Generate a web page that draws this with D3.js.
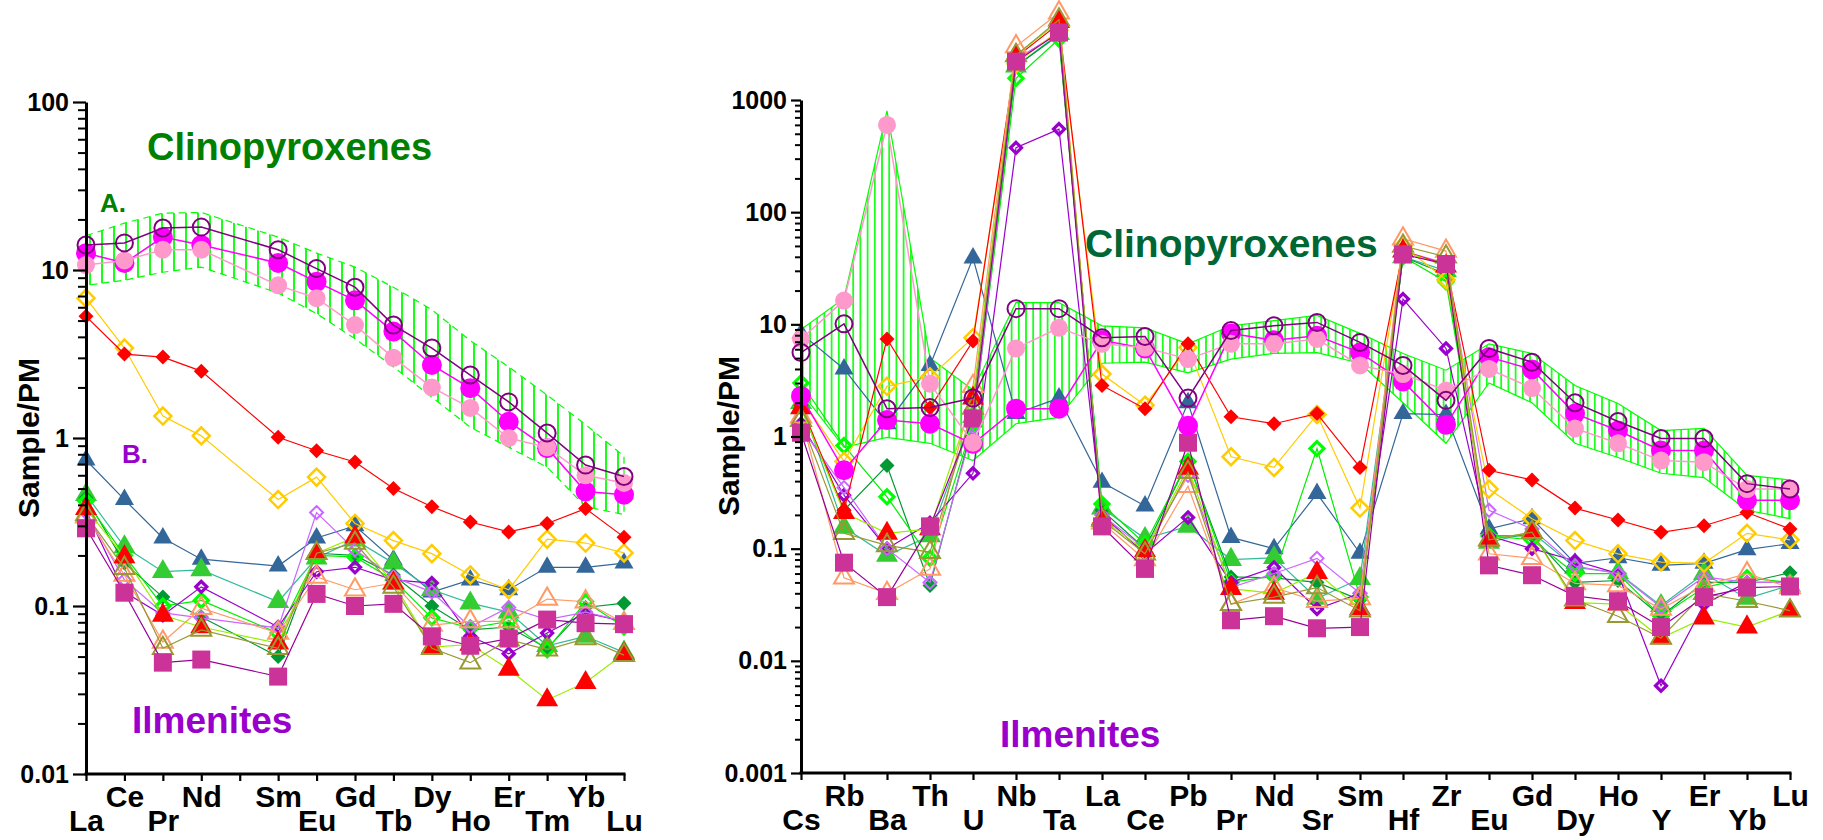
<!DOCTYPE html>
<html>
<head>
<meta charset="utf-8">
<script src="https://cdn.jsdelivr.net/npm/d3@7/dist/d3.min.js"></script>
<style>
  html, body { margin: 0; padding: 0; background: #fff; }
  svg { display: block; font-family: "Liberation Sans", Arial, Helvetica, sans-serif; font-weight: bold; }
</style>
</head>
<body>
<script>
// ---------------- Panel A: REE patterns (primitive-mantle normalised) ----------------
const reeTicks = ["La","Ce","Pr","Nd","Pm","Sm","Eu","Gd","Tb","Dy","Ho","Er","Tm","Yb","Lu"];
const reeElements = ["La","Ce","Pr","Nd","Sm","Eu","Gd","Tb","Dy","Ho","Er","Tm","Yb","Lu"];
const reeYTicks = [100, 10, 1, 0.1, 0.01];

// clinopyroxene range (hatched field)
const reeCpxUpper = [16, 19, 21.8, 22, 15.7, 12.6, 10.4, 7.9, 5.8, 3.8, 2.65, 1.8, 1.2, 0.78];
const reeCpxLower = [8.1, 8.7, 9.7, 10.4, 7.3, 5.5, 3.9, 2.65, 1.75, 1.16, 0.88, 0.67, 0.39, 0.35];

// clinopyroxenes
const reeCpxOpen    = [14.1, 14.5, 17.8, 18.0, 13.2, 10.2, 7.9, 4.7, 3.43, 2.37, 1.64, 1.07, 0.69, 0.59];
const reeCpxMagenta = [12.6, 11.0, 15.7, 14.1, 11.0, 8.5, 6.6, 4.3, 2.72, 1.98, 1.25, 0.87, 0.48, 0.46];
const reeCpxPink    = [10.7, 11.4, 13.2, 13.2, 8.1, 6.8, 4.7, 3.0, 2.0, 1.51, 1.0, 0.88, 0.60, 0.54];

// ilmenites
const reeIlmBlue        = [0.74, 0.43, 0.254, 0.19, 0.173, 0.254, 0.30, 0.188, 0.121, 0.143, 0.125, 0.17, 0.17, 0.18];
const reeIlmGreenTri    = [0.46, 0.225, 0.16, 0.164, 0.106, 0.193, 0.247, 0.18, 0.125, 0.104, 0.092, 0.058, 0.066, 0.053];
const reeIlmDarkGreen   = [0.44, 0.18, 0.113, 0.086, 0.05, 0.206, 0.2, 0.153, 0.10, 0.072, 0.075, 0.056, 0.098, 0.104];
const reeIlmBrightGreen = [0.42, 0.2, 0.10, 0.108, 0.069, 0.2, 0.196, 0.143, 0.085, 0.074, 0.081, 0.055, 0.106, 0.075];
const reeIlmPurple      = [0.37, 0.121, 0.088, 0.13, 0.075, 0.16, 0.17, 0.143, 0.137, 0.066, 0.052, 0.069, 0.091, 0.081];
const reeIlmLilac       = [0.36, 0.143, 0.091, 0.085, 0.074, 0.36, 0.216, 0.149, 0.121, 0.075, 0.098, 0.083, 0.092, 0.081];
const reeIlmGold        = [6.8, 3.43, 1.35, 1.03, 0.43, 0.585, 0.31, 0.245, 0.205, 0.153, 0.125, 0.25, 0.237, 0.207];
const reeIlmRedDiamond  = [5.3, 3.16, 3.03, 2.5, 1.01, 0.84, 0.72, 0.50, 0.39, 0.316, 0.276, 0.31, 0.38, 0.257];
const reeIlmSalmon      = [0.34, 0.153, 0.061, 0.097, 0.069, 0.149, 0.125, 0.137, 0.077, 0.081, 0.081, 0.11, 0.106, 0.079];
const reeIlmOlive       = [0.35, 0.168, 0.056, 0.072, 0.056, 0.206, 0.237, 0.13, 0.056, 0.046, 0.063, 0.055, 0.064, 0.051];
const reeIlmRedTri      = [0.38, 0.196, 0.088, 0.075, 0.06, 0.206, 0.257, 0.137, 0.057, 0.059, 0.042, 0.0276, 0.035, 0.052];
const reeIlmSquare      = [0.29, 0.12, 0.046, 0.048, 0.038, 0.118, 0.1, 0.103, 0.066, 0.058, 0.064, 0.083, 0.079, 0.078];

// ---------------- Panel B: multi-element patterns ----------------
const spiderElements = ["Cs","Rb","Ba","Th","U","Nb","Ta","La","Ce","Pb","Pr","Nd","Sr","Sm","Hf","Zr","Eu","Gd","Dy","Ho","Y","Er","Yb","Lu"];
const spiderYTicks = [1000, 100, 10, 1, 0.1, 0.01, 0.001];

const spCpxUpper = [9.0, 17, 800, 5.0, 2.6, 15.6, 15.6, 9.7, 9.3, 6.7, 9.7, 10.8, 12, 8.3, 5.5, 3.9, 6.7, 5.5, 2.85, 1.97, 1.13, 1.18, 0.45, 0.41];
const spCpxLower = [2.5, 0.8, 0.98, 0.87, 0.61, 1.3, 1.48, 4.5, 4.6, 3.7, 4.9, 5.5, 5.6, 4.5, 2.0, 0.87, 3.0, 2.0, 0.87, 0.65, 0.47, 0.43, 0.22, 0.185];

const spCpxOpen    = [5.6, 10.1, 1.77, 1.81, 2.2, 13.8, 13.8, 7.6, 7.8, 2.2, 8.8, 9.7, 10.4, 6.9, 4.3, 2.1, 6.1, 4.6, 2.0, 1.36, 0.96, 0.96, 0.38, 0.34];
const spCpxMagenta = [2.3, 0.5, 1.4, 1.3, 0.86, 1.77, 1.77, 7.2, 6.1, 1.25, 8.3, 7.2, 7.9, 5.6, 3.1, 1.27, 5.1, 3.96, 1.6, 1.13, 0.75, 0.75, 0.27, 0.27];
const spCpxPink    = [7.4, 16.3, 600, 2.96, 0.88, 6.1, 9.3, 6.7, 6.2, 4.9, 6.7, 6.7, 7.4, 4.3, 3.6, 2.57, 4.0, 2.7, 1.18, 0.87, 0.61, 0.59, 0.34, 0.34];

const spIlmBlue        = [8.3, 4.0, 1.3, 4.3, 39, 1.6, 2.2, 0.39, 0.24, 2.0, 0.126, 0.1, 0.31, 0.091, 1.6, 1.57, 0.15, 0.185, 0.074, 0.083, 0.071, 0.074, 0.098, 0.111];
const spIlmGreenTri    = [2.0, 0.155, 0.087, 0.13, 1.5, 2000, 3900, 0.23, 0.123, 0.158, 0.08, 0.083, 0.036, 0.054, 40, 30, 0.114, 0.14, 0.068, 0.061, 0.031, 0.06, 0.036, 0.047];
const spIlmDarkGreen   = [1.8, 0.22, 0.55, 0.047, 1.3, 2000, 3800, 0.22, 0.1, 0.6, 0.056, 0.055, 0.05, 0.035, 40, 28, 0.13, 0.13, 0.05, 0.052, 0.025, 0.05, 0.05, 0.061];
const spIlmBrightGreen = [3.0, 0.83, 0.29, 0.082, 1.3, 1560, 3500, 0.25, 0.11, 0.6, 0.05, 0.057, 0.78, 0.037, 40, 24, 0.13, 0.12, 0.06, 0.06, 0.025, 0.045, 0.055, 0.05];
const spIlmPurple      = [1.3, 0.3, 0.1, 0.17, 0.47, 375, 550, 0.2, 0.09, 0.19, 0.05, 0.068, 0.029, 0.04, 16.8, 6.1, 0.13, 0.1, 0.078, 0.06, 0.006, 0.032, 0.05, 0.05];
const spIlmLilac       = [1.2, 0.35, 0.1, 0.05, 1.2, 2300, 4000, 0.2, 0.1, 0.45, 0.045, 0.06, 0.082, 0.04, 45, 35, 0.22, 0.15, 0.07, 0.06, 0.03, 0.056, 0.05, 0.05];
const spIlmGold        = [2.2, 0.6, 2.8, 3.4, 7.6, 2100, 4200, 3.6, 1.9, 6.2, 0.66, 0.53, 1.57, 0.23, 50, 25, 0.34, 0.185, 0.118, 0.09, 0.076, 0.074, 0.137, 0.12];
const spIlmRedDiamond  = [1.9, 0.22, 7.4, 1.8, 7.1, 2400, 4800, 2.85, 1.77, 6.7, 1.5, 1.3, 1.6, 0.53, 45, 34, 0.5, 0.41, 0.23, 0.18, 0.14, 0.16, 0.21, 0.15];
const spIlmSalmon      = [1.5, 0.055, 0.04, 0.066, 2.8, 3000, 6000, 0.17, 0.08, 0.36, 0.032, 0.045, 0.034, 0.036, 58, 45, 0.09, 0.082, 0.049, 0.047, 0.029, 0.047, 0.06, 0.045];
const spIlmOlive       = [1.4, 0.137, 0.107, 0.093, 1.8, 2500, 5200, 0.18, 0.09, 0.48, 0.032, 0.037, 0.045, 0.028, 50, 40, 0.12, 0.14, 0.035, 0.025, 0.016, 0.04, 0.034, 0.028];
const spIlmRedTri      = [1.8, 0.21, 0.137, 0.15, 2.2, 2500, 5000, 0.185, 0.096, 0.52, 0.044, 0.04, 0.061, 0.029, 45, 33, 0.12, 0.14, 0.033, 0.032, 0.016, 0.024, 0.02, 0.028];
const spIlmSquare      = [1.08, 0.075, 0.037, 0.158, 1.45, 2200, 4000, 0.158, 0.066, 0.88, 0.023, 0.025, 0.0195, 0.02, 42, 34.5, 0.071, 0.058, 0.038, 0.034, 0.02, 0.037, 0.045, 0.046];

// ---------------- symbol styles (drawing order = list order) ----------------
const ilmStyles = [
  { key: "Blue",        shape: "triangle", size: 9.5, fill: "#336699", stroke: "none",    sw: 0,   line: "#336699" },
  { key: "GreenTri",    shape: "triangle", size: 11,  fill: "#33cc33", stroke: "none",    sw: 0,   line: "#33bb99" },
  { key: "DarkGreen",   shape: "diamond",  size: 7.5, fill: "#009933", stroke: "none",    sw: 0,   line: "#009933" },
  { key: "BrightGreen", shape: "diamond",  size: 7,   fill: "none",    stroke: "#00ff00", sw: 3.2, line: "#00ee00" },
  { key: "Purple",      shape: "diamond",  size: 5.5, fill: "none",    stroke: "#9900cc", sw: 3.2, line: "#9900cc" },
  { key: "Lilac",       shape: "diamond",  size: 6.5, fill: "none",    stroke: "#cc66ff", sw: 2,   line: "#cc66ff" },
  { key: "Gold",        shape: "diamond",  size: 8.5, fill: "none",    stroke: "#ffcc00", sw: 2.5, line: "#ffcc00" },
  { key: "RedDiamond",  shape: "diamond",  size: 7.5, fill: "#ff0000", stroke: "none",    sw: 0,   line: "#ff0000" },
  { key: "Salmon",      shape: "triangle", size: 10,  fill: "none",    stroke: "#ff9966", sw: 2,   line: "#ff9966" },
  { key: "RedTri",      shape: "triangle", size: 11,  fill: "#ff0000", stroke: "none",    sw: 0,   line: "#99ee00" },
  { key: "Olive",       shape: "triangle", size: 10,  fill: "none",    stroke: "#999933", sw: 2,   line: "#999933" },
  { key: "Square",      shape: "square",   size: 9,   fill: "#cc3399", stroke: "none",    sw: 0,   line: "#990099" }
];
const cpxStyles = [
  { key: "Magenta", shape: "circle", size: 10,  fill: "#ff00ff", stroke: "none",    sw: 0,   line: "#ff00ff" },
  { key: "Pink",    shape: "circle", size: 9,   fill: "#ff99cc", stroke: "none",    sw: 0,   line: "#ff99cc" },
  { key: "Open",    shape: "circle", size: 8.5, fill: "none",    stroke: "#800080", sw: 2,   line: "#800080" }
];

const reeData = {
  Blue: reeIlmBlue, GreenTri: reeIlmGreenTri, DarkGreen: reeIlmDarkGreen, BrightGreen: reeIlmBrightGreen,
  Purple: reeIlmPurple, Lilac: reeIlmLilac, Gold: reeIlmGold, RedDiamond: reeIlmRedDiamond,
  Salmon: reeIlmSalmon, RedTri: reeIlmRedTri, Olive: reeIlmOlive, Square: reeIlmSquare,
  Magenta: reeCpxMagenta, Pink: reeCpxPink, Open: reeCpxOpen
};
const spData = {
  Blue: spIlmBlue, GreenTri: spIlmGreenTri, DarkGreen: spIlmDarkGreen, BrightGreen: spIlmBrightGreen,
  Purple: spIlmPurple, Lilac: spIlmLilac, Gold: spIlmGold, RedDiamond: spIlmRedDiamond,
  Salmon: spIlmSalmon, RedTri: spIlmRedTri, Olive: spIlmOlive, Square: spIlmSquare,
  Magenta: spCpxMagenta, Pink: spCpxPink, Open: spCpxOpen
};

// ---------------- drawing ----------------
const W = 1823, H = 840;
const svg = d3.select("body").append("svg").attr("width", W).attr("height", H);
const defs = svg.append("defs");

function hatch(id, gap, width) {
  const p = defs.append("pattern").attr("id", id)
    .attr("patternUnits", "userSpaceOnUse").attr("width", gap).attr("height", 20);
  p.append("line").attr("x1", gap / 2).attr("x2", gap / 2).attr("y1", 0).attr("y2", 20)
    .attr("stroke", "#00ff00").attr("stroke-width", width);
}
hatch("hatchA", 12, 1.8);
hatch("hatchB", 7.2, 1.6);

function markerPath(shape, s) {
  if (shape === "circle") return `M${s},0A${s},${s} 0 1,1 ${-s},0A${s},${s} 0 1,1 ${s},0Z`;
  if (shape === "square") return `M${-s},${-s}H${s}V${s}H${-s}Z`;
  if (shape === "diamond") return `M0,${-s}L${s},0L0,${s}L${-s},0Z`;
  const h = s * Math.sqrt(3);
  return `M0,${-h * 2 / 3}L${s},${h / 3}L${-s},${h / 3}Z`;
}

function drawPanel(cfg) {
  const g = svg.append("g");
  const x = d3.scalePoint().domain(cfg.axisSlots).range(cfg.xRange);
  const y = d3.scaleLog().domain(cfg.yDomain).range(cfg.yRange);

  // hatched clinopyroxene field
  const area = d3.area()
    .x((d, i) => x(cfg.elements[i]))
    .y0((d, i) => y(cfg.lower[i]))
    .y1((d, i) => y(cfg.upper[i]));
  g.append("path").datum(cfg.upper).attr("d", area)
    .attr("fill", `url(#${cfg.hatchId})`)
    .attr("stroke", "#00ff00").attr("stroke-width", 1.2)
    .attr("stroke-dasharray", cfg.outlineDash);

  const line = d3.line().x((d, i) => x(cfg.elements[i])).y(d => y(d));

  function series(st, lw) {
    const vals = cfg.data[st.key];
    g.append("path").datum(vals).attr("d", line)
      .attr("fill", "none").attr("stroke", st.line).attr("stroke-width", lw);
    g.append("g").selectAll("path").data(vals).join("path")
      .attr("transform", (d, i) => `translate(${x(cfg.elements[i])},${y(d)})`)
      .attr("d", markerPath(st.shape, st.size))
      .attr("fill", st.fill).attr("stroke", st.stroke).attr("stroke-width", st.sw);
  }
  ilmStyles.forEach(st => series(st, 1.2));
  cpxStyles.forEach(st => series(st, 1.5));

  // y axis: minor then major ticks
  const minors = [];
  const [lo, hi] = cfg.yDomain;
  for (let e = Math.round(Math.log10(lo)); e < Math.round(Math.log10(hi)); e++)
    for (let m = 2; m <= 9; m++) minors.push(m * Math.pow(10, e));
  const ax = g.append("g").attr("transform", `translate(${cfg.xRange[0]},0)`);
  ax.append("g").call(d3.axisLeft(y).tickValues(minors).tickSize(cfg.minorTick).tickFormat(""))
    .call(s => s.select(".domain").remove())
    .selectAll("line").attr("stroke", "#000").attr("stroke-width", 2);
  ax.append("g").call(d3.axisLeft(y).tickValues(cfg.yTicks).tickSize(cfg.majorTick).tickSizeOuter(0)
      .tickPadding(4).tickFormat(d => String(d)))
    .call(s => s.select(".domain").attr("stroke", "#000").attr("stroke-width", 3))
    .call(s => s.selectAll("line").attr("stroke", "#000").attr("stroke-width", 2.2))
    .call(s => s.selectAll("text").attr("fill", "#000").attr("font-size", 25)
      .attr("font-family", "'Liberation Sans', Arial, sans-serif").attr("font-weight", "bold"));

  // x axis with staggered element labels
  const bx = g.append("g").attr("transform", `translate(0,${cfg.yRange[0]})`);
  bx.call(d3.axisBottom(x).tickSize(7).tickSizeOuter(0).tickFormat(d => cfg.hidden.has(d) ? "" : d))
    .call(s => s.select(".domain").attr("stroke", "#000").attr("stroke-width", 3)
      .attr("d", `M${cfg.xRange[0] - 1.5},0H${cfg.xRange[1] + 1.5}`))
    .call(s => s.selectAll("line").attr("stroke", "#000").attr("stroke-width", 2.2))
    .call(s => s.selectAll("text").attr("fill", "#000").attr("font-size", 30)
      .attr("font-family", "'Liberation Sans', Arial, sans-serif").attr("font-weight", "bold")
      .attr("dy", null)
      .attr("y", d => cfg.upper2.has(d) ? 33 : 57));

  // y title
  svg.append("text")
    .attr("transform", `translate(${cfg.titleX},${cfg.titleY}) rotate(-90)`)
    .attr("text-anchor", "middle").attr("dominant-baseline", "central")
    .attr("font-size", 30).text("Sample/PM");

  return g;
}

drawPanel({
  axisSlots: reeTicks, elements: reeElements, hidden: new Set(["Pm"]),
  upper2: new Set(["Ce","Nd","Sm","Gd","Dy","Er","Yb"]),
  xRange: [86, 624], yDomain: [0.01, 100], yRange: [774, 102], yTicks: reeYTicks,
  upper: reeCpxUpper, lower: reeCpxLower, data: reeData,
  hatchId: "hatchA", outlineDash: "7,5", majorTick: 13, minorTick: 8,
  titleX: 28, titleY: 438
});

drawPanel({
  axisSlots: spiderElements, elements: spiderElements, hidden: new Set(),
  upper2: new Set(["Rb","Th","Nb","La","Pb","Nd","Sm","Zr","Gd","Ho","Er","Lu"]),
  xRange: [801, 1790], yDomain: [0.001, 1000], yRange: [773, 100], yTicks: spiderYTicks,
  upper: spCpxUpper, lower: spCpxLower, data: spData,
  hatchId: "hatchB", outlineDash: null, majorTick: 10, minorTick: 6,
  titleX: 728, titleY: 436
});

// group labels
function label(txt, x, y, size, color) {
  svg.append("text").attr("x", x).attr("y", y).attr("font-size", size)
    .attr("fill", color).text(txt);
}
label("Clinopyroxenes", 147, 160, 38, "#008000");
label("A.", 100, 212, 26, "#008000");
label("B.", 122, 463, 26, "#9900cc");
label("Ilmenites", 132, 733, 37, "#9900cc");
label("Clinopyroxenes", 1085, 257, 39, "#006633");
label("Ilmenites", 1000, 747, 37, "#9900cc");
</script>
</body>
</html>
